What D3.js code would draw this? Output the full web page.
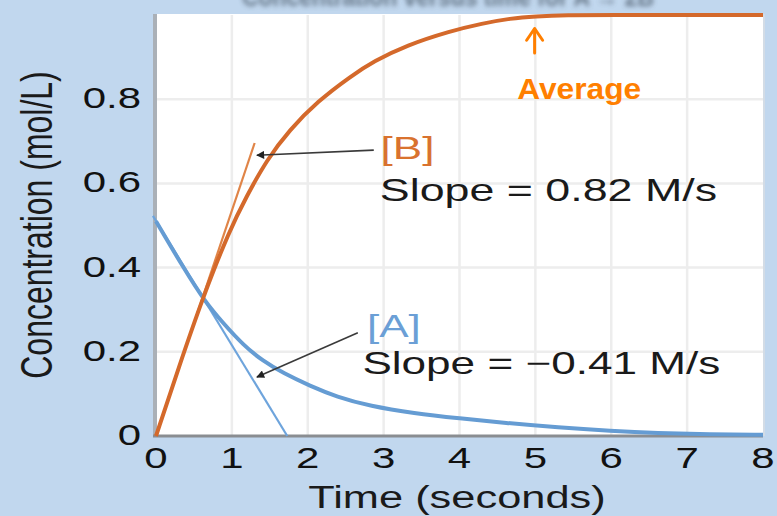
<!DOCTYPE html>
<html>
<head>
<meta charset="utf-8">
<script src="https://cdn.jsdelivr.net/npm/d3@7"></script>
<style>
  html, body { margin: 0; padding: 0; background: #c1d7ee; }
  svg { display: block; }
  text { font-family: "Liberation Sans", Arial, Helvetica, sans-serif; }
</style>
</head>
<body>
<svg id="chart" width="777" height="516"></svg>
<script>
// ---- data ----
const timeB = [0, 0.3, 0.62, 0.97, 1.19, 1.46, 1.76, 2.13, 2.57, 2.87, 3.3, 3.88, 4.3, 4.67, 5.0, 5.4, 6, 7, 8];
const concB = [0, 0.163, 0.331, 0.489, 0.568, 0.656, 0.727, 0.795, 0.855, 0.89, 0.928, 0.962, 0.98, 0.992, 0.997, 1.0, 1.0, 1.0, 1.0];
const timeA = [0, 0.36, 0.645, 0.886, 1.15, 1.41, 1.68, 2.03, 2.38, 2.82, 3.4, 4.0, 4.6, 5.3, 6.0, 6.6, 7.3, 8];
const concA = [0.51, 0.40, 0.319, 0.268, 0.216, 0.178, 0.149, 0.119, 0.093, 0.071, 0.054, 0.042, 0.031, 0.020, 0.012, 0.007, 0.004, 0.003];
const tangentBTime = [0, 1.30];
const tangentBConc = [0, 0.696];
const tangentATime = [-0.04, 1.73];
const tangentAConc = [0.523, 0];
const xTickValues = [0, 1, 2, 3, 4, 5, 6, 7, 8];
const yTickValues = [0, 0.2, 0.4, 0.6, 0.8];
const yTickLabels = ["0", "0.2", "0.4", "0.6", "0.8"];
const labelB = "[B]";
const labelA = "[A]";
const slopeBText = "Slope = 0.82 M/s";
const slopeAText = "Slope = \u22120.41 M/s";
const xTitle = "Time (seconds)";
const yTitle = "Concentration (mol/L)";
const noteText = "Average";
const titleText = "Concentration versus time for A \u2192 2B";

// ---- layout ----
const svg = d3.select("#chart");
const SX = 1.4; // horizontal stretch of the original artwork
const x = d3.scaleLinear().domain([0, 8]).range([156, 763]);
const y = d3.scaleLinear().domain([0, 1]).range([436, 15]);

// blurred, cut-off title at top
const defs = svg.append("defs");
defs.append("filter").attr("id", "blur").attr("x", "-10%").attr("y", "-50%").attr("width", "120%").attr("height", "200%")
  .append("feGaussianBlur").attr("stdDeviation", 2.4);
svg.append("text")
  .attr("x", 242).attr("y", 6)
  .attr("textLength", 412).attr("lengthAdjust", "spacingAndGlyphs")
  .attr("font-size", 26).attr("font-weight", "bold")
  .attr("fill", "#4f5e6e").attr("opacity", 0.8)
  .attr("filter", "url(#blur)")
  .text(titleText);

// plot area
svg.append("rect")
  .attr("x", x(0)).attr("y", y(1) - 1)
  .attr("width", x(8) - x(0)).attr("height", y(0) - y(1) + 1)
  .attr("fill", "#ffffff");
svg.append("line")
  .attr("x1", x(8) + 1).attr("x2", x(8) + 1).attr("y1", y(1) - 1).attr("y2", y(0))
  .attr("stroke", "#d3dce6").attr("stroke-width", 2);

// gridlines
svg.append("g").selectAll("line").data(xTickValues.filter(d => d > 0 && d < 8)).join("line")
  .attr("x1", d => x(d)).attr("x2", d => x(d)).attr("y1", y(1)).attr("y2", y(0))
  .attr("stroke", "#ededed").attr("stroke-width", 2.5);
svg.append("g").selectAll("line").data(yTickValues.filter(d => d > 0)).join("line")
  .attr("x1", x(0)).attr("x2", x(8)).attr("y1", d => y(d)).attr("y2", d => y(d))
  .attr("stroke", "#ededed").attr("stroke-width", 2.5);

// axes lines
svg.append("line")
  .attr("x1", x(0) - 1).attr("x2", x(0) - 1).attr("y1", y(1) - 1).attr("y2", y(0) + 1)
  .attr("stroke", "#aab0b7").attr("stroke-width", 4);
svg.append("line")
  .attr("x1", x(0) - 3).attr("x2", x(8)).attr("y1", y(0)).attr("y2", y(0))
  .attr("stroke", "#8a8d91").attr("stroke-width", 3);

// tick labels
svg.append("g").selectAll("text").data(xTickValues).join("text")
  .attr("transform", d => `translate(${x(d)},468) scale(${SX},1)`)
  .attr("text-anchor", "middle").attr("font-size", 30).attr("fill", "#111")
  .text(d => d);
svg.append("g").selectAll("text").data(yTickValues).join("text")
  .attr("transform", d => `translate(141,${y(d) + 9}) scale(${SX},1)`)
  .attr("text-anchor", "end").attr("font-size", 30).attr("fill", "#111")
  .text((d, i) => yTickLabels[i]);

// axis titles
svg.append("text")
  .attr("transform", `translate(457,508) scale(${SX},1)`)
  .attr("text-anchor", "middle").attr("font-size", 31).attr("fill", "#1a1a1a")
  .text(xTitle);
svg.append("text")
  .attr("transform", `translate(52,225) scale(${SX},1) rotate(-90)`)
  .attr("text-anchor", "middle").attr("font-size", 32).attr("fill", "#1a1a1a")
  .text(yTitle);

// tangents
const line = d3.line().x(d => x(d[0])).y(d => y(d[1]));
svg.append("path")
  .attr("d", line(tangentATime.map((t, i) => [t, tangentAConc[i]])))
  .attr("fill", "none").attr("stroke", "#6ea4dc").attr("stroke-width", 2.2);
svg.append("path")
  .attr("d", line(tangentBTime.map((t, i) => [t, tangentBConc[i]])))
  .attr("fill", "none").attr("stroke", "#e08447").attr("stroke-width", 2.2);

// curves
const curve = d3.line().x(d => x(d[0])).y(d => y(d[1])).curve(d3.curveBasis);
svg.append("path")
  .attr("d", curve(timeA.map((t, i) => [t, concA[i]])))
  .attr("fill", "none").attr("stroke", "#659cd3").attr("stroke-width", 4);
svg.append("path")
  .attr("d", curve(timeB.map((t, i) => [t, concB[i]])))
  .attr("fill", "none").attr("stroke", "#d4692b").attr("stroke-width", 4);

// arrows (annotation callouts)
defs.append("marker").attr("id", "arrowHead")
  .attr("viewBox", "0 0 10 10").attr("refX", 9).attr("refY", 5)
  .attr("markerWidth", 9).attr("markerHeight", 8).attr("markerUnits", "userSpaceOnUse")
  .attr("orient", "auto")
  .append("path").attr("d", "M0,0 L10,5 L0,10 Z").attr("fill", "#222");
svg.append("line")
  .attr("x1", x(2.87)).attr("y1", y(0.679)).attr("x2", x(1.33)).attr("y2", y(0.667))
  .attr("stroke", "#3a3a3a").attr("stroke-width", 1.6).attr("marker-end", "url(#arrowHead)");
svg.append("line")
  .attr("x1", x(2.66)).attr("y1", y(0.245)).attr("x2", x(1.33)).attr("y2", y(0.14))
  .attr("stroke", "#3a3a3a").attr("stroke-width", 1.6).attr("marker-end", "url(#arrowHead)");

// annotation texts
svg.append("text")
  .attr("transform", `translate(${x(2.96)},${y(0.657)}) scale(${SX},1)`)
  .attr("font-size", 31.5).attr("fill", "#d9722f").text(labelB);
svg.append("text")
  .attr("transform", `translate(${x(2.95)},${y(0.558)}) scale(${SX},1)`)
  .attr("font-size", 32).attr("fill", "#1a1a1a").text(slopeBText);
svg.append("text")
  .attr("transform", `translate(${x(2.78)},${y(0.235)}) scale(${SX},1)`)
  .attr("font-size", 31.5).attr("fill", "#6b9fd6").text(labelA);
svg.append("text")
  .attr("transform", `translate(${x(2.72)},${y(0.147)}) scale(${SX},1)`)
  .attr("font-size", 31.5).attr("fill", "#1a1a1a").text(slopeAText);

// hand-written "Average" note with arrow
svg.append("line")
  .attr("x1", x(4.99)).attr("x2", x(4.99)).attr("y1", y(0.91)).attr("y2", y(0.967))
  .attr("stroke", "#ff7f00").attr("stroke-width", 3).attr("stroke-linecap", "round");
svg.append("path")
  .attr("d", `M${x(4.99) - 8},${y(0.94)} L${x(4.99)},${y(0.968)} L${x(4.99) + 8},${y(0.94)}`)
  .attr("fill", "none").attr("stroke", "#ff7f00").attr("stroke-width", 3)
  .attr("stroke-linecap", "round").attr("stroke-linejoin", "round");
svg.append("text")
  .attr("x", x(4.76)).attr("y", y(0.80))
  .attr("textLength", 124).attr("lengthAdjust", "spacingAndGlyphs")
  .attr("font-family", "'Open Sans', sans-serif")
  .attr("font-size", 30).attr("font-weight", 600).attr("fill", "#ff7f00")
  .text(noteText);
</script>
</body>
</html>
